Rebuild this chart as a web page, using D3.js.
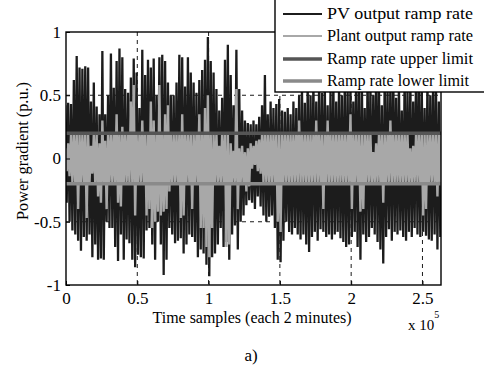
<!DOCTYPE html>
<html><head><meta charset="utf-8">
<script src="https://cdn.jsdelivr.net/npm/d3@7"></script>
<style>body{margin:0;background:#fff}svg text{font-family:"Liberation Serif","Times New Roman",serif;fill:#000}</style>
</head><body><svg id="c" width="484" height="369"></svg>
<script>
const sampleStep = 2000;
const xTicks = [0, 50000, 100000, 150000, 200000, 250000];
const yTicks = [-1, -0.5, 0, 0.5, 1];
const legendLabels = ["PV output ramp rate","Plant output ramp rate","Ramp rate upper limit","Ramp rate lower limit"];
const upperLimit = 0.2, lowerLimit = -0.2;
const pvHigh = [0.42,0.44,0.43,0.62,0.81,0.72,0.71,0.73,0.72,0.45,0.6,0.41,0.35,0.85,0.35,0.5,0.83,0.56,0.77,0.87,0.8,0.55,0.52,0.64,0.79,0.68,0.4,0.86,0.66,0.78,0.72,0.79,0.5,
0.8,0.82,0.77,0.6,0.5,0.5,0.6,0.82,0.8,0.57,0.8,0.68,0.6,0.52,0.62,0.7,0.78,0.96,0.77,0.68,0.55,0.38,0.48,0.78,0.9,0.66,0.42,0.86,0.55,0.38,0.3,0.28,0.27,0.3,
0.27,0.33,0.42,0.66,0.35,0.45,0.4,0.43,0.47,0.38,0.37,0.4,0.35,0.45,0.4,0.5,0.55,0.44,0.6,0.5,0.62,0.45,0.58,0.52,0.6,0.42,0.55,0.62,0.45,0.58,0.5,0.6,0.55,
0.6,0.45,0.7,0.55,0.62,0.4,0.68,0.58,0.5,0.72,0.6,0.42,0.65,0.55,0.6,0.7,0.48,0.6,0.38,0.66,0.55,0.62,0.45,0.7,0.6,0.58,0.4,0.62,0.5,0.66,0.55,0.45];
const pvLow = [-0.35,-0.5,-0.57,-0.6,-0.65,-0.73,-0.62,-0.65,-0.6,-0.78,-0.68,-0.8,-0.79,-0.8,-0.5,-0.55,-0.55,-0.7,-0.81,-0.6,-0.8,-0.64,-0.67,-0.8,-0.86,-0.76,-0.78,-0.79,-0.57,-0.55,-0.68,-0.8,-0.5,
-0.68,-0.92,-0.8,-0.55,-0.6,-0.67,-0.65,-0.63,-0.75,-0.68,-0.6,-0.62,-0.66,-0.78,-0.72,-0.75,-0.84,-0.93,-0.78,-0.75,-0.68,-0.55,-0.7,-0.66,-0.8,-0.6,-0.53,-0.72,-0.5,-0.45,-0.37,-0.33,-0.35,-0.4,
-0.3,-0.38,-0.45,-0.5,-0.46,-0.45,-0.55,-0.8,-0.82,-0.65,-0.5,-0.58,-0.6,-0.55,-0.6,-0.64,-0.6,-0.68,-0.74,-0.62,-0.58,-0.65,-0.56,-0.58,-0.62,-0.6,-0.64,-0.6,-0.58,-0.63,-0.66,-0.7,-0.68,
-0.62,-0.58,-0.7,-0.8,-0.6,-0.66,-0.62,-0.55,-0.6,-0.66,-0.72,-0.83,-0.62,-0.56,-0.65,-0.58,-0.6,-0.57,-0.62,-0.65,-0.58,-0.62,-0.55,-0.6,-0.62,-0.58,-0.61,-0.64,-0.65,-0.6,-0.72,-0.62];
const plantHigh = [0.08,0.12,0.185,0.19,0.195,0.19,0.185,0.19,0.195,0.1,0.19,0.185,0.12,0.3,0.14,0.19,0.195,0.185,0.35,0.19,0.25,0.19,0.195,0.45,0.58,0.19,0.185,0.3,0.19,0.195,0.45,0.3,0.19,
0.58,0.19,0.35,0.42,0.19,0.185,0.195,0.19,0.35,0.19,0.195,0.185,0.19,0.195,0.35,0.19,0.4,0.5,0.19,0.185,0.195,0.1,0.19,0.195,0.19,0.12,0.06,0.55,0.08,0.1,0.05,0.08,0.12,0.1,
0.14,0.15,0.19,0.195,0.185,0.19,0.195,0.19,0.185,0.19,0.195,0.19,0.185,0.19,0.195,0.3,0.19,0.185,0.195,0.19,0.185,0.3,0.19,0.195,0.185,0.3,0.19,0.195,0.185,0.19,0.195,0.19,0.185,
0.35,0.19,0.195,0.185,0.19,0.195,0.19,0.185,0.05,0.12,0.19,0.195,0.185,0.19,0.3,0.19,0.195,0.185,0.19,0.195,0.185,0.08,0.1,0.19,0.195,0.185,0.19,0.195,0.185,0.19,0.195,0.185];
const plantLow = [-0.1,-0.14,-0.185,-0.19,-0.4,-0.19,-0.185,-0.47,-0.19,-0.12,-0.19,-0.3,-0.35,-0.19,-0.4,-0.185,-0.19,-0.195,-0.35,-0.38,-0.19,-0.185,-0.195,-0.19,-0.45,-0.19,-0.185,-0.19,-0.45,-0.4,-0.55,-0.5,-0.42,
-0.45,-0.42,-0.4,-0.26,-0.19,-0.185,-0.195,-0.47,-0.45,-0.19,-0.185,-0.4,-0.19,-0.195,-0.55,-0.55,-0.7,-0.78,-0.55,-0.19,-0.185,-0.195,-0.19,-0.7,-0.68,-0.19,-0.185,-0.4,-0.19,-0.195,-0.26,-0.22,-0.08,-0.05,
-0.1,-0.12,-0.19,-0.185,-0.195,-0.19,-0.185,-0.5,-0.58,-0.19,-0.185,-0.195,-0.19,-0.185,-0.19,-0.195,-0.185,-0.19,-0.195,-0.185,-0.19,-0.195,-0.185,-0.4,-0.19,-0.195,-0.185,-0.19,-0.195,-0.185,-0.19,-0.195,-0.185,
-0.4,-0.19,-0.195,-0.42,-0.4,-0.19,-0.185,-0.195,-0.19,-0.185,-0.19,-0.35,-0.195,-0.185,-0.19,-0.195,-0.185,-0.19,-0.195,-0.185,-0.19,-0.195,-0.185,-0.19,-0.195,-0.45,-0.4,-0.19,-0.185,-0.195,-0.3,-0.19];

const svg = d3.select("#c");
const L = 66, R = 441, T = 32, B = 285;
const x = d3.scaleLinear().domain([0, 263000]).range([L, R]);
const y = d3.scaleLinear().domain([-1, 1]).range([B, T]);

svg.append("defs").append("clipPath").attr("id","clip").append("rect")
  .attr("x",L).attr("y",T).attr("width",R-L).attr("height",B-T);

// grid
const grid = svg.append("g").attr("stroke","#000").attr("stroke-width",0.9).attr("stroke-dasharray","4,4");
xTicks.filter(d=>d>0).forEach(d=>grid.append("line").attr("x1",x(d)).attr("x2",x(d)).attr("y1",T).attr("y2",B));
yTicks.filter(d=>d>-1&&d<1).forEach(d=>grid.append("line").attr("x1",L).attr("x2",R).attr("y1",y(d)).attr("y2",y(d)));

function zig(hi, lo){
  const pts = [];
  hi.forEach((h,i)=>{ pts.push([i*sampleStep - 500, h]); pts.push([i*sampleStep + 500, lo[i]]); });
  return d3.line().x(d=>x(d[0])).y(d=>y(d[1]))(pts);
}
const data = svg.append("g").attr("clip-path","url(#clip)");
data.append("path").attr("d",zig(pvHigh,pvLow)).attr("fill","none").attr("stroke","#1c1c1c").attr("stroke-width",2.3).attr("stroke-linejoin","miter").attr("stroke-miterlimit",2);
data.append("path").attr("d",zig(plantHigh,plantLow)).attr("fill","none").attr("stroke","#a8a8a8").attr("stroke-width",2.4).attr("stroke-linejoin","miter").attr("stroke-miterlimit",2);
data.append("line").attr("x1",L).attr("x2",R).attr("y1",y(upperLimit)).attr("y2",y(upperLimit)).attr("stroke","#555").attr("stroke-width",3.5);
data.append("line").attr("x1",L).attr("x2",R).attr("y1",y(lowerLimit)).attr("y2",y(lowerLimit)).attr("stroke","#8a8a8a").attr("stroke-width",3.5);

// axes
const xa = svg.append("g").attr("transform",`translate(0,${B})`)
  .call(d3.axisBottom(x).tickValues(xTicks).tickSize(-4).tickPadding(7).tickFormat(d=>d/1e5));
const ya = svg.append("g").attr("transform",`translate(${L},0)`)
  .call(d3.axisLeft(y).tickValues(yTicks).tickSize(-4).tickPadding(5).tickFormat(d=>d));
[xa,ya].forEach(a=>{a.select(".domain").remove(); a.selectAll("line").attr("stroke","#000"); a.selectAll("text").style("font-size","17px").attr("font-family",null);});
svg.append("rect").attr("x",L).attr("y",T).attr("width",R-L).attr("height",B-T).attr("fill","none").attr("stroke","#000").attr("stroke-width",1.4);

svg.append("text").attr("x",252).attr("y",323).attr("text-anchor","middle").style("font-size","16px")
  .attr("textLength",199).attr("lengthAdjust","spacingAndGlyphs").text("Time samples (each 2 minutes)");
svg.append("text").attr("transform","translate(28,151) rotate(-90)").attr("text-anchor","middle").style("font-size","17px")
  .attr("textLength",138).attr("lengthAdjust","spacingAndGlyphs").text("Power gradient (p.u.)");
const ex = svg.append("text").attr("x",408).attr("y",330).style("font-size","15px");
ex.append("tspan").text("x 10");
ex.append("tspan").attr("dy",-12).style("font-size","10px").text("5");
svg.append("text").attr("x",251).attr("y",361).attr("text-anchor","middle").style("font-size","17px").text("a)");

// legend
const lg = svg.append("g");
lg.append("rect").attr("x",275).attr("y",-2).attr("width",220).attr("height",94).attr("fill","#fff").attr("stroke","#000").attr("stroke-width",1.4);
const lcol = ["#1c1c1c","#a8a8a8","#555","#8a8a8a"], lw = [1.8,1.8,3.5,3.5], ly = [14,36,59,81];
legendLabels.forEach((t,i)=>{
  lg.append("line").attr("x1",283).attr("x2",322).attr("y1",ly[i]).attr("y2",ly[i]).attr("stroke",lcol[i]).attr("stroke-width",lw[i]);
  lg.append("text").attr("x",327).attr("y",ly[i]+5).style("font-size","17px")
    .attr("textLength",[146,146,146,142][i]).attr("lengthAdjust","spacingAndGlyphs").text(t);
});
</script></body></html>
